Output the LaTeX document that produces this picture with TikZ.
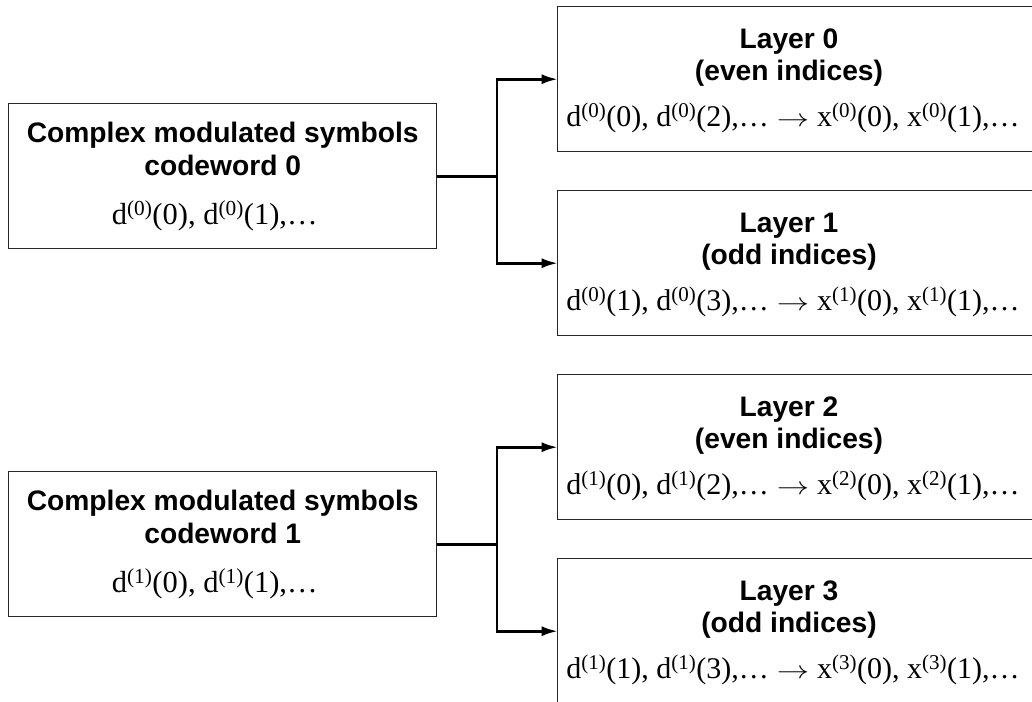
\documentclass[tikz,border=0pt]{standalone}
\usepackage{fontspec}
\setmainfont{Liberation Serif}
\setsansfont{Liberation Sans}
\usetikzlibrary{arrows.meta}
\newcommand\sps[1]{\textsuperscript{(#1)}}
\newcommand\hd[1]{{\sffamily\bfseries\fontsize{28.2}{33}\selectfont #1}}
\newcommand\fm[1]{{\fontsize{30}{33}\selectfont #1}}
\newcommand\fmb[1]{{\fontsize{30.5}{33}\selectfont #1}}
\newcommand\arw{\hspace{8pt}\scalebox{1.3}[1]{$\rightarrow$}\hspace{8pt}}
\tikzset{
  box/.style={draw=black!85, line width=1.4pt, inner sep=0pt, anchor=north west},
  srcbox/.style={box, minimum width=428pt, minimum height=145pt, align=center, font=\fontsize{28}{33}\selectfont},
  laybox/.style={box, minimum width=600pt, minimum height=145pt},
  laytext/.style={align=center, inner sep=0pt, font=\fontsize{28}{32}\selectfont},
  conn/.style={line width=2.6pt, black},
  arr/.style={conn, -{Latex[length=16pt,width=10pt]}, shorten >=-0.7pt},
}
\begin{document}
\begin{tikzpicture}[x=1pt, y=-1pt]
\useasboundingbox (0,0) rectangle (1032,701);
\clip (0,0) rectangle (1032,701);
% source boxes
\node[srcbox] (cw0) at (8,103) {\hd{Complex modulated symbols}\\\hd{codeword 0}\\[16pt]\fmb{d\sps{0}(0), d\sps{0}(1),…}\hspace*{16pt}};
\node[srcbox] (cw1) at (8,471) {\hd{Complex modulated symbols}\\\hd{codeword 1}\\[16pt]\fmb{d\sps{1}(0), d\sps{1}(1),…}\hspace*{16pt}};
% layer boxes
\node[laybox] (L0) at (557,6) {};
\node[laybox] (L1) at (557,190) {};
\node[laybox] (L2) at (557,374) {};
\node[laybox] (L3) at (557,558) {};
\node[laytext] (t0) at ([xshift=232pt,yshift=-1.5pt]L0.west) {\hd{Layer 0}\\\hd{(even indices)}\\[14pt]\hspace*{8pt}\fm{d\sps{0}(0), d\sps{0}(2),…\arw x\sps{0}(0), x\sps{0}(1),…}};
\node[laytext] (t1) at ([xshift=232pt,yshift=-1.5pt]L1.west) {\hd{Layer 1}\\\hd{(odd indices)}\\[14pt]\hspace*{8pt}\fm{d\sps{0}(1), d\sps{0}(3),…\arw x\sps{1}(0), x\sps{1}(1),…}};
\node[laytext] (t2) at ([xshift=232pt,yshift=-1.5pt]L2.west) {\hd{Layer 2}\\\hd{(even indices)}\\[14pt]\hspace*{8pt}\fm{d\sps{1}(0), d\sps{1}(2),…\arw x\sps{2}(0), x\sps{2}(1),…}};
\node[laytext] (t3) at ([xshift=232pt,yshift=-1.5pt]L3.west) {\hd{Layer 3}\\\hd{(odd indices)}\\[14pt]\hspace*{8pt}\fm{d\sps{1}(1), d\sps{1}(3),…\arw x\sps{3}(0), x\sps{3}(1),…}};
% junctions
\coordinate (j0) at (cw0.east -| 497,0);
\coordinate (j1) at (cw1.east -| 497,0);
\draw[conn] (cw0.east) -- (j0);
\draw[conn] (cw1.east) -- (j1);
\draw[arr] (j0) |- (L0.west);
\draw[arr] (j0) |- (L1.west);
\draw[arr] (j1) |- (L2.west);
\draw[arr] (j1) |- (L3.west);
\end{tikzpicture}
\end{document}
